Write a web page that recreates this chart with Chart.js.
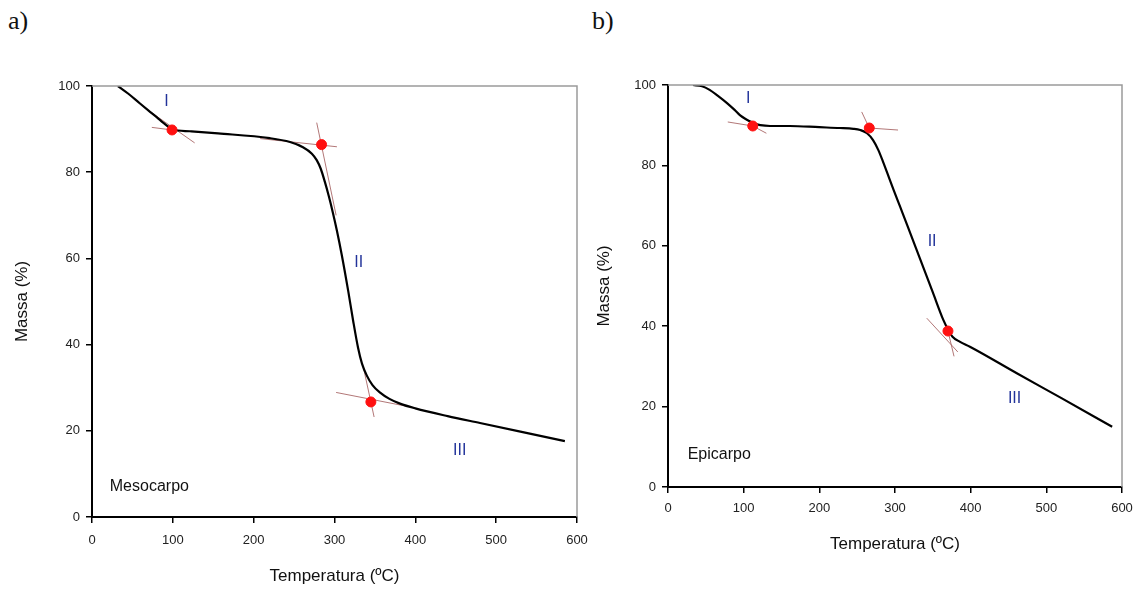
<!DOCTYPE html>
<html>
<head>
<meta charset="utf-8">
<script src="https://cdn.jsdelivr.net/npm/chart.js@4.4.0/dist/chart.umd.min.js"></script>
<style>
  body { margin: 0; background: #fff; width: 1147px; height: 590px; position: relative; overflow: hidden; }
  .panel { position: absolute; top: 0; height: 590px; }
  .tag { position: absolute; top: 6px; font-family: "Liberation Serif", "DejaVu Serif", serif; font-size: 26px; color: #111; }
</style>
</head>
<body>
<div class="tag" style="left:8px">a)</div>
<div class="tag" style="left:592px">b)</div>
<div class="panel" style="left:0;width:590px"><canvas id="meso"></canvas></div>
<div class="panel" style="left:590px;width:557px"><canvas id="epi"></canvas></div>
<script>
// Mesocarpo TGA curve
const mesoTemp = [32, 45, 59, 70, 80, 88, 94, 100, 121, 156, 220, 245, 261, 272, 278, 283, 288, 293, 298, 303, 309, 317, 323, 329, 334, 340, 347, 356, 368, 381, 400, 440, 480, 530, 585];
const mesoMass = [100, 98.2, 96, 94.3, 92.8, 91.5, 90.6, 89.9, 89.5, 89, 87.9, 87, 85.8, 84.3, 82.8, 80.8, 77.8, 74.4, 70.6, 66.4, 60.8, 52.4, 45.6, 39.4, 35.6, 32.8, 30.6, 28.9, 27.4, 26.3, 25.2, 23.4, 21.8, 19.8, 17.6];
const mesoOnsetTemp = [99, 284, 345];
const mesoOnsetMass = [89.8, 86.4, 26.7];
// tangent segments [T1, M1, T2, M2]
const mesoTangents = [
  [74, 90.4, 99, 89.8], [70, 94.3, 127, 86.8],
  [208, 87.8, 303, 85.9], [278, 91.5, 302, 70],
  [302, 28.9, 400, 25.3], [336, 34.5, 349, 23.2]
];

// Epicarpo TGA curve
const epiTemp = [33, 45, 55, 66, 78, 88, 95, 102, 108, 114, 122, 135, 161, 200, 227, 245, 254, 263, 271, 278, 284, 290, 298, 307, 316, 333, 350, 364, 370, 376, 386, 399, 461, 520, 587];
const epiMass = [100, 99.7, 98.8, 97.3, 95.5, 93.8, 92.5, 91.6, 91, 90.4, 90, 89.8, 89.8, 89.5, 89.3, 89.1, 88.8, 88, 86.3, 83.8, 81, 78, 74, 69.6, 65.2, 56.8, 48.4, 41.5, 39.2, 37.4, 36.1, 34.9, 28.3, 22.1, 15];
const epiOnsetTemp = [112, 266, 370];
const epiOnsetMass = [89.8, 89.3, 38.8];
const epiTangents = [
  [79, 90.8, 112, 89.8], [112, 89.8, 130, 88],
  [45, 100.3, 35, 100.6],
  [256, 93.3, 266, 89.3], [266, 89.3, 304, 88.8],
  [342, 42, 383, 33.6], [370, 38.8, 378, 32.5]
];

const xTicks = [0, 100, 200, 300, 400, 500, 600];
const yTicks = [0, 20, 40, 60, 80, 100];

// text labels: [text, T, M, align]
const mesoLabels = [['I', 92, 96.3, 'center'], ['II', 330, 59, 'center'], ['III', 455, 15.5, 'center'], ['Mesocarpo', 22, 7, 'left']];
const epiLabels = [['I', 106, 96.5, 'center'], ['II', 349, 61, 'center'], ['III', 458, 22, 'center'], ['Epicarpo', 26, 8, 'left']];

const FONT = '"Liberation Sans", Arial, sans-serif';

const labelPlugin = {
  id: 'labels',
  afterDraw(chart) {
    const ctx = chart.ctx, a = chart.chartArea;
    const xs = chart.scales.x, ys = chart.scales.y;
    ctx.save();
    // top and right frame
    ctx.strokeStyle = '#9a9a9a';
    ctx.lineWidth = 1.5;
    ctx.beginPath();
    ctx.moveTo(a.left, a.top);
    ctx.lineTo(a.right, a.top);
    ctx.lineTo(a.right, a.bottom);
    ctx.stroke();
    ctx.textBaseline = 'middle';
    chart.options.plugins.labels.items.forEach(function (l) {
      if (l[0].indexOf('I') === 0) {
        ctx.fillStyle = '#22339a';
        ctx.font = '16px ' + FONT;
      } else {
        ctx.fillStyle = '#111';
        ctx.font = '16px ' + FONT;
      }
      ctx.textAlign = l[3];
      ctx.fillText(l[0], xs.getPixelForValue(l[1]), ys.getPixelForValue(l[2]));
    });
    ctx.restore();
  }
};

function makeChart(id, temp, mass, onT, onM, tangents, labels, cfg) {
  const datasets = [];
  tangents.forEach(function (t) {
    datasets.push({
      data: [{x: t[0], y: t[1]}, {x: t[2], y: t[3]}],
      borderColor: 'rgba(165,95,95,0.85)', borderWidth: 1, pointRadius: 0, showLine: true, order: 3
    });
  });
  datasets.push({
    data: temp.map(function (t, i) { return {x: t, y: mass[i]}; }),
    borderColor: '#000', borderWidth: 2.2, pointRadius: 0, showLine: true,
    cubicInterpolationMode: 'monotone', order: 2
  });
  datasets.push({
    data: onT.map(function (t, i) { return {x: t, y: onM[i]}; }),
    backgroundColor: '#ff1010', borderColor: '#ff1010', pointRadius: 5, showLine: false, order: 1
  });

  return new Chart(document.getElementById(id), {
    type: 'scatter',
    data: {datasets: datasets},
    options: {
      responsive: false, animation: false, maintainAspectRatio: false,
      layout: {padding: {top: cfg.top, right: cfg.right, left: 0, bottom: 0}},
      plugins: {legend: {display: false}, tooltip: {enabled: false}, labels: {items: labels}},
      scales: {
        x: {
          type: 'linear', min: 0, max: 600,
          afterBuildTicks: function (s) { s.ticks = xTicks.map(function (v) { return {value: v}; }); },
          afterFit: function (s) { s.height = cfg.xh; s.paddingLeft = 0; s.paddingRight = 0; },
          grid: {drawOnChartArea: false, tickLength: 6, color: '#000', lineWidth: 1.5},
          border: {color: '#000', width: 2},
          ticks: {color: '#222', font: {size: 13, family: FONT}, padding: cfg.xpad, maxRotation: 0},
          title: {display: true, text: 'Temperatura (ºC)', color: '#111', font: {size: 17, family: FONT}, padding: {top: 0, bottom: cfg.xtitle}}
        },
        y: {
          type: 'linear', min: 0, max: 100,
          afterBuildTicks: function (s) { s.ticks = yTicks.map(function (v) { return {value: v}; }); },
          afterFit: function (s) { s.width = cfg.yw; s.paddingTop = 0; s.paddingBottom = 0; },
          grid: {drawOnChartArea: false, tickLength: 6, color: '#000', lineWidth: 1.5},
          border: {color: '#000', width: 2},
          ticks: {color: '#222', font: {size: 13, family: FONT}, padding: 6},
          title: {display: true, text: 'Massa (%)', color: '#111', font: {size: 17, family: FONT}, padding: {top: cfg.ytitle, bottom: 0}}
        }
      }
    },
    plugins: [labelPlugin]
  });
}

document.getElementById('meso').width = 590;
document.getElementById('meso').height = 590;
document.getElementById('epi').width = 557;
document.getElementById('epi').height = 590;

makeChart('meso', mesoTemp, mesoMass, mesoOnsetTemp, mesoOnsetMass, mesoTangents, mesoLabels,
  {top: 86, right: 13, xh: 73, yw: 92, xpad: 10, xtitle: 3, ytitle: 12});
makeChart('epi', epiTemp, epiMass, epiOnsetTemp, epiOnsetMass, epiTangents, epiLabels,
  {top: 85, right: 25, xh: 103, yw: 78, xpad: 8, xtitle: 35, ytitle: 4});
</script>
</body>
</html>
